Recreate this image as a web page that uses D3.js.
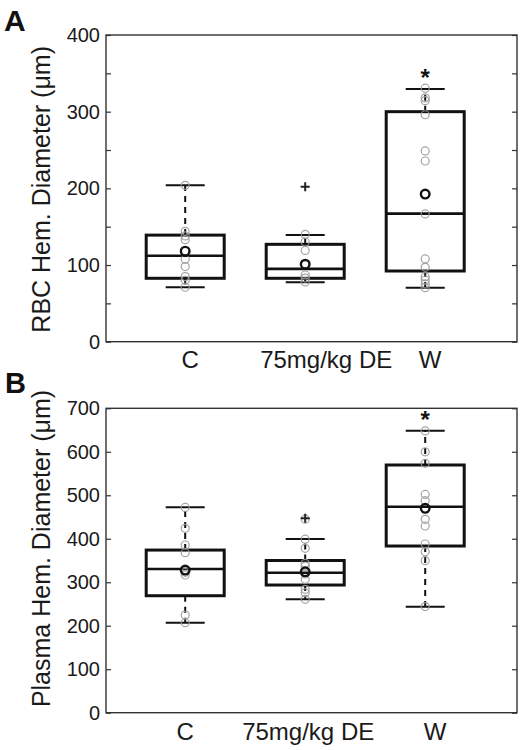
<!DOCTYPE html>
<html>
<head>
<meta charset="utf-8">
<script src="https://cdn.jsdelivr.net/npm/d3@7"></script>
<style>
  html, body { margin: 0; padding: 0; background: #fff; }
  svg { display: block; font-family: "Liberation Sans", Arial, sans-serif; }
</style>
</head>
<body>
<svg id="chart" width="522" height="750"></svg>
<script>
// ---------- DATA ----------
const categories = ["C", "75mg/kg DE", "W"];

// Panel A: RBC hemorrhage diameter (µm)
const rbcTicks    = [0, 50, 100, 150, 200, 250, 300, 350, 400];
const rbcQ1       = [82.7, 82.7, 92.2];
const rbcMedian   = [112, 95, 167];
const rbcQ3       = [139, 127, 300];
const rbcLow      = [71, 77.5, 70.5];
const rbcHigh     = [204, 139, 329.5];
const rbcMean     = [118, 101, 192.5];
const rbcOutliers = [[], [202], []];
const rbcSignif   = ["", "", "*"];
const rbcPoints   = [
  [204, 144, 138, 133, 107.5, 98, 85, 80, 71],
  [140, 130, 119, 87, 83, 78],
  [330.6, 318, 314.4, 296, 248.8, 235.7, 166.6, 108, 97, 84.8, 80.5, 75.3, 70.5]
];

// Panel B: plasma hemorrhage diameter (µm)
const plasmaTicks    = [0, 100, 200, 300, 400, 500, 600, 700];
const plasmaQ1       = [269, 293.6, 383.3];
const plasmaMedian   = [330.4, 322, 473.7];
const plasmaQ3       = [374, 350, 569.6];
const plasmaLow      = [207, 260.7, 243.8];
const plasmaHigh     = [472.3, 399.4, 648.4];
const plasmaMean     = [328, 324, 470];
const plasmaOutliers = [[], [447], []];
const plasmaSignif   = ["", "", "*"];
const plasmaPoints   = [
  [472, 424, 385.6, 368, 322.8, 316.6, 224.6, 207],
  [445, 399, 378, 343.5, 337, 319, 306.7, 283.7, 276, 260.7],
  [648, 600, 573.5, 502, 487.5, 444.7, 429.3, 388, 370, 349.5, 244]
];

// ---------- LAYOUT ----------
const svg = d3.select("#chart");

const panels = [
  {
    letter: "A", letterX: 4, letterY: 31, letterSize: 30,
    top: 35, bottom: 341.7,
    max: 400, ticks: rbcTicks, labelEvery: 100,
    title: "RBC Hem. Diameter (\u03bcm)", titleShift: 1,
    q1: rbcQ1, med: rbcMedian, q3: rbcQ3, lo: rbcLow, hi: rbcHigh,
    mean: rbcMean, out: rbcOutliers, sig: rbcSignif, pts: rbcPoints,
    labelDx: [5, 21, 5], labelGap: 26.5
  },
  {
    letter: "B", letterX: 5, letterY: 393, letterSize: 29,
    top: 408.3, bottom: 712.7,
    max: 700, ticks: plasmaTicks, labelEvery: 100,
    title: "Plasma Hem. Diameter (\u03bcm)", titleShift: -12,
    q1: plasmaQ1, med: plasmaMedian, q3: plasmaQ3, lo: plasmaLow, hi: plasmaHigh,
    mean: plasmaMean, out: plasmaOutliers, sig: plasmaSignif, pts: plasmaPoints,
    labelDx: [0, 3, 10], labelGap: 27.5
  }
];

const left = 106, right = 517;
const x = d3.scaleLinear().domain([0.34, 3.765]).range([left, right]);
const boxHalf = 39, capHalf = 19.5;
const ink = "#111";

panels.forEach(p => {
  const y = d3.scaleLinear().domain([0, p.max]).range([p.bottom, p.top]);
  const g = svg.append("g");

  // frame
  g.append("rect")
    .attr("x", left).attr("y", p.top)
    .attr("width", right - left).attr("height", p.bottom - p.top)
    .attr("fill", "none").attr("stroke", "#333").attr("stroke-width", 1.4);

  // left axis (inward ticks)
  const ya = g.append("g").attr("transform", `translate(${left},0)`)
    .call(d3.axisLeft(y).tickValues(p.ticks)
      .tickFormat(d => d % p.labelEvery === 0 ? d : "")
      .tickSizeInner(-5).tickSizeOuter(0).tickPadding(6));
  ya.select(".domain").remove();
  ya.selectAll(".tick line").attr("stroke", "#333").attr("stroke-width", 1.2);
  ya.selectAll(".tick text").attr("font-size", 20).attr("fill", "#1a1a1a")
    .attr("font-family", "Liberation Sans, Arial, sans-serif");

  // right axis ticks
  const yr = g.append("g").attr("transform", `translate(${right},0)`)
    .call(d3.axisRight(y).tickValues(p.ticks).tickFormat("")
      .tickSizeInner(-5).tickSizeOuter(0));
  yr.select(".domain").remove();
  yr.selectAll(".tick line").attr("stroke", "#333").attr("stroke-width", 1.2);

  // x category labels
  g.selectAll(".xl").data(categories).enter().append("text")
    .attr("x", (d, i) => x(i + 1) + p.labelDx[i])
    .attr("y", p.bottom + p.labelGap)
    .attr("text-anchor", "middle")
    .attr("font-size", 24).attr("fill", "#1a1a1a")
    .text(d => d);

  // y title
  g.append("text")
    .attr("transform", `translate(50,${(p.top + p.bottom) / 2 + p.titleShift}) rotate(-90)`)
    .attr("text-anchor", "middle")
    .attr("font-size", 25).attr("fill", "#1a1a1a")
    .text(p.title);

  // panel letter
  svg.append("text")
    .attr("x", p.letterX).attr("y", p.letterY)
    .attr("font-size", p.letterSize).attr("font-weight", "bold")
    .attr("font-family", "Liberation Sans, Arial, sans-serif")
    .attr("fill", "#111")
    .text(p.letter);

  categories.forEach((c, i) => {
    const cx = x(i + 1);
    // whiskers (dashed)
    g.append("line").attr("x1", cx).attr("x2", cx)
      .attr("y1", y(p.q3[i])).attr("y2", y(p.hi[i]))
      .attr("stroke", ink).attr("stroke-width", 2).attr("stroke-dasharray", "6,5");
    g.append("line").attr("x1", cx).attr("x2", cx)
      .attr("y1", y(p.q1[i])).attr("y2", y(p.lo[i]))
      .attr("stroke", ink).attr("stroke-width", 2).attr("stroke-dasharray", "6,5");
    // caps
    [p.hi[i], p.lo[i]].forEach(v => {
      g.append("line").attr("x1", cx - capHalf).attr("x2", cx + capHalf)
        .attr("y1", y(v)).attr("y2", y(v))
        .attr("stroke", ink).attr("stroke-width", 2);
    });
    // box
    g.append("rect")
      .attr("x", cx - boxHalf).attr("y", y(p.q3[i]))
      .attr("width", 2 * boxHalf).attr("height", y(p.q1[i]) - y(p.q3[i]))
      .attr("fill", "none").attr("stroke", ink).attr("stroke-width", 3);
    // median
    g.append("line").attr("x1", cx - boxHalf).attr("x2", cx + boxHalf)
      .attr("y1", y(p.med[i])).attr("y2", y(p.med[i]))
      .attr("stroke", ink).attr("stroke-width", 2.6);
    // data points
    g.selectAll(null).data(p.pts[i]).enter().append("circle")
      .attr("cx", cx).attr("cy", d => y(d)).attr("r", 4)
      .attr("fill", "none").attr("stroke", "#9a9a9a").attr("stroke-width", 1.2)
      .attr("stroke-opacity", 0.9);
    // mean
    g.append("circle").attr("cx", cx).attr("cy", y(p.mean[i])).attr("r", 4.3)
      .attr("fill", "none").attr("stroke", ink).attr("stroke-width", 2.4);
    // outliers
    p.out[i].forEach(v => {
      g.append("path")
        .attr("d", `M${cx - 4.5},${y(v)}h9M${cx},${y(v) - 4.5}v9`)
        .attr("stroke", "#222").attr("stroke-width", 2);
    });
    // significance
    if (p.sig[i]) {
      const top = d3.max([p.hi[i]].concat(p.out[i]));
      g.append("text")
        .attr("x", cx).attr("y", y(top) - 3)
        .attr("text-anchor", "middle")
        .attr("font-size", 24).attr("font-weight", "bold").attr("fill", "#111")
        .text(p.sig[i]);
    }
  });
});
</script>
</body>
</html>
